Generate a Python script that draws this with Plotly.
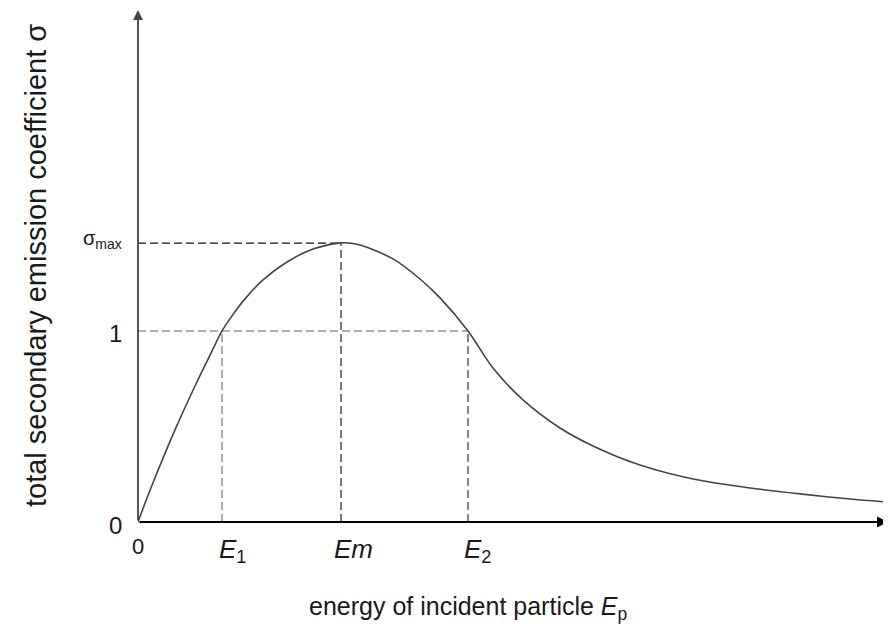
import plotly.graph_objects as go

# Curve (energy in arbitrary units, sigma)
energy = [0.0, 0.09, 0.19, 0.37, 0.57, 0.74, 0.84, 0.94, 1.07, 1.25, 1.49, 1.75, 2.03,
          2.22, 2.55, 2.82, 3.02, 3.30, 3.55, 3.85, 4.22, 4.55, 5.02, 5.55, 6.12, 6.62,
          7.12, 7.47]
sigma = [0.0, 0.126, 0.257, 0.482, 0.712, 0.895, 1.0, 1.079, 1.168, 1.267, 1.361, 1.429,
         1.461, 1.450, 1.377, 1.272, 1.173, 1.0, 0.806, 0.639, 0.492, 0.398, 0.298,
         0.225, 0.178, 0.147, 0.120, 0.105]

E1, Em, E2 = 0.84, 2.03, 3.30
sigma_max = 1.46
x_max, y_max = 7.5, 2.68

x_tick_vals = [0, E1, Em, E2]
x_tick_text = ["0", "<i>E</i><sub>1</sub>", "<i>E</i><i>m</i>", "<i>E</i><sub>2</sub>"]
y_tick_vals = [0, 1, sigma_max]
y_tick_text = ["0", "1", "σ<sub>max</sub>"]

x_title = "energy of incident particle <i>E</i><sub>p</sub>"
y_title = "total secondary emission coefficient σ"

FONT = "Liberation Sans, Arial, sans-serif"
TXT = "#1a1a1a"

# page has an 8px body margin; figure sized to fit the window
W, H = 883, 634
ML, MR, MT, MB = 130, 3, 2, 120
PW, PH = W - ML - MR, H - MT - MB

def screen_to_paper(sx, sy):
    fx, fy = sx - 8, sy - 8
    return (fx - ML) / PW, (H - MB - fy) / PH

fig = go.Figure()

dash = "8px,4px"
# guide lines
fig.add_trace(go.Scatter(x=[0, Em], y=[sigma_max, sigma_max], mode="lines",
                         line=dict(color="#111", width=1.3, dash=dash), hoverinfo="skip"))
fig.add_trace(go.Scatter(x=[Em, Em], y=[0, sigma_max], mode="lines",
                         line=dict(color="#333", width=1.3, dash=dash), hoverinfo="skip"))
fig.add_trace(go.Scatter(x=[0, E2], y=[1, 1], mode="lines",
                         line=dict(color="#999", width=1.6, dash=dash), hoverinfo="skip"))
fig.add_trace(go.Scatter(x=[E1, E1], y=[0, 1], mode="lines",
                         line=dict(color="#888", width=1.4, dash=dash), hoverinfo="skip"))
fig.add_trace(go.Scatter(x=[E2, E2], y=[0, 1], mode="lines",
                         line=dict(color="#444", width=1.3, dash=dash), hoverinfo="skip"))

# curve
fig.add_trace(go.Scatter(x=energy, y=sigma, mode="lines",
                         line=dict(color="#444", width=1.6, shape="spline", smoothing=0.8),
                         hoverinfo="skip"))

annotations = []
# axes with arrows
annotations.append(dict(x=0, y=y_max, ax=0, ay=0, xref="x", yref="y", axref="x", ayref="y",
                        text="", showarrow=True, arrowhead=2, arrowsize=1.1, arrowwidth=1.8,
                        arrowcolor="#444", standoff=0, startstandoff=0))
annotations.append(dict(x=x_max, y=0, ax=0, ay=0, xref="x", yref="y", axref="x", ayref="y",
                        text="", showarrow=True, arrowhead=2, arrowsize=1.0, arrowwidth=2.2,
                        arrowcolor="#000", standoff=0, startstandoff=0))

# x tick labels
x_shifts = [0, -5, -9, -6]
for v, t, s in zip(x_tick_vals, x_tick_text, x_shifts):
    annotations.append(dict(x=v, y=0, xref="x", yref="y", text=t, showarrow=False,
                            xanchor="left" if v > 0 else "center", yanchor="top",
                            xshift=s, yshift=-10,
                            font=dict(family=FONT, size=26 if v > 0 else 22, color=TXT)))
# y tick labels
for v, t in zip(y_tick_vals, y_tick_text):
    is_max = v == sigma_max
    annotations.append(dict(x=0, y=v, xref="x", yref="y", text=t, showarrow=False,
                            xanchor="right", yanchor="middle",
                            xshift=-14,
                            yshift=-3 if not is_max else 4,
                            font=dict(family=FONT, size=24 if not is_max else 20, color=TXT)))

# axis titles
xx, yy = screen_to_paper(468, 626)
annotations.append(dict(x=xx, y=yy, xref="paper", yref="paper", text=x_title, showarrow=False,
                        font=dict(family=FONT, size=25, color=TXT)))
xx, yy = screen_to_paper(18, 266)
annotations.append(dict(x=xx, y=yy, xref="paper", yref="paper", text=y_title, showarrow=False,
                        textangle=-90, font=dict(family=FONT, size=29, color=TXT)))

fig.update_layout(
    width=W, height=H,
    margin=dict(l=ML, r=MR, t=MT, b=MB),
    paper_bgcolor="white", plot_bgcolor="white",
    showlegend=False,
    xaxis=dict(range=[0, x_max], visible=False, fixedrange=True),
    yaxis=dict(range=[0, y_max], visible=False, fixedrange=True),
    annotations=annotations,
)

fig.write_html("out.html")
